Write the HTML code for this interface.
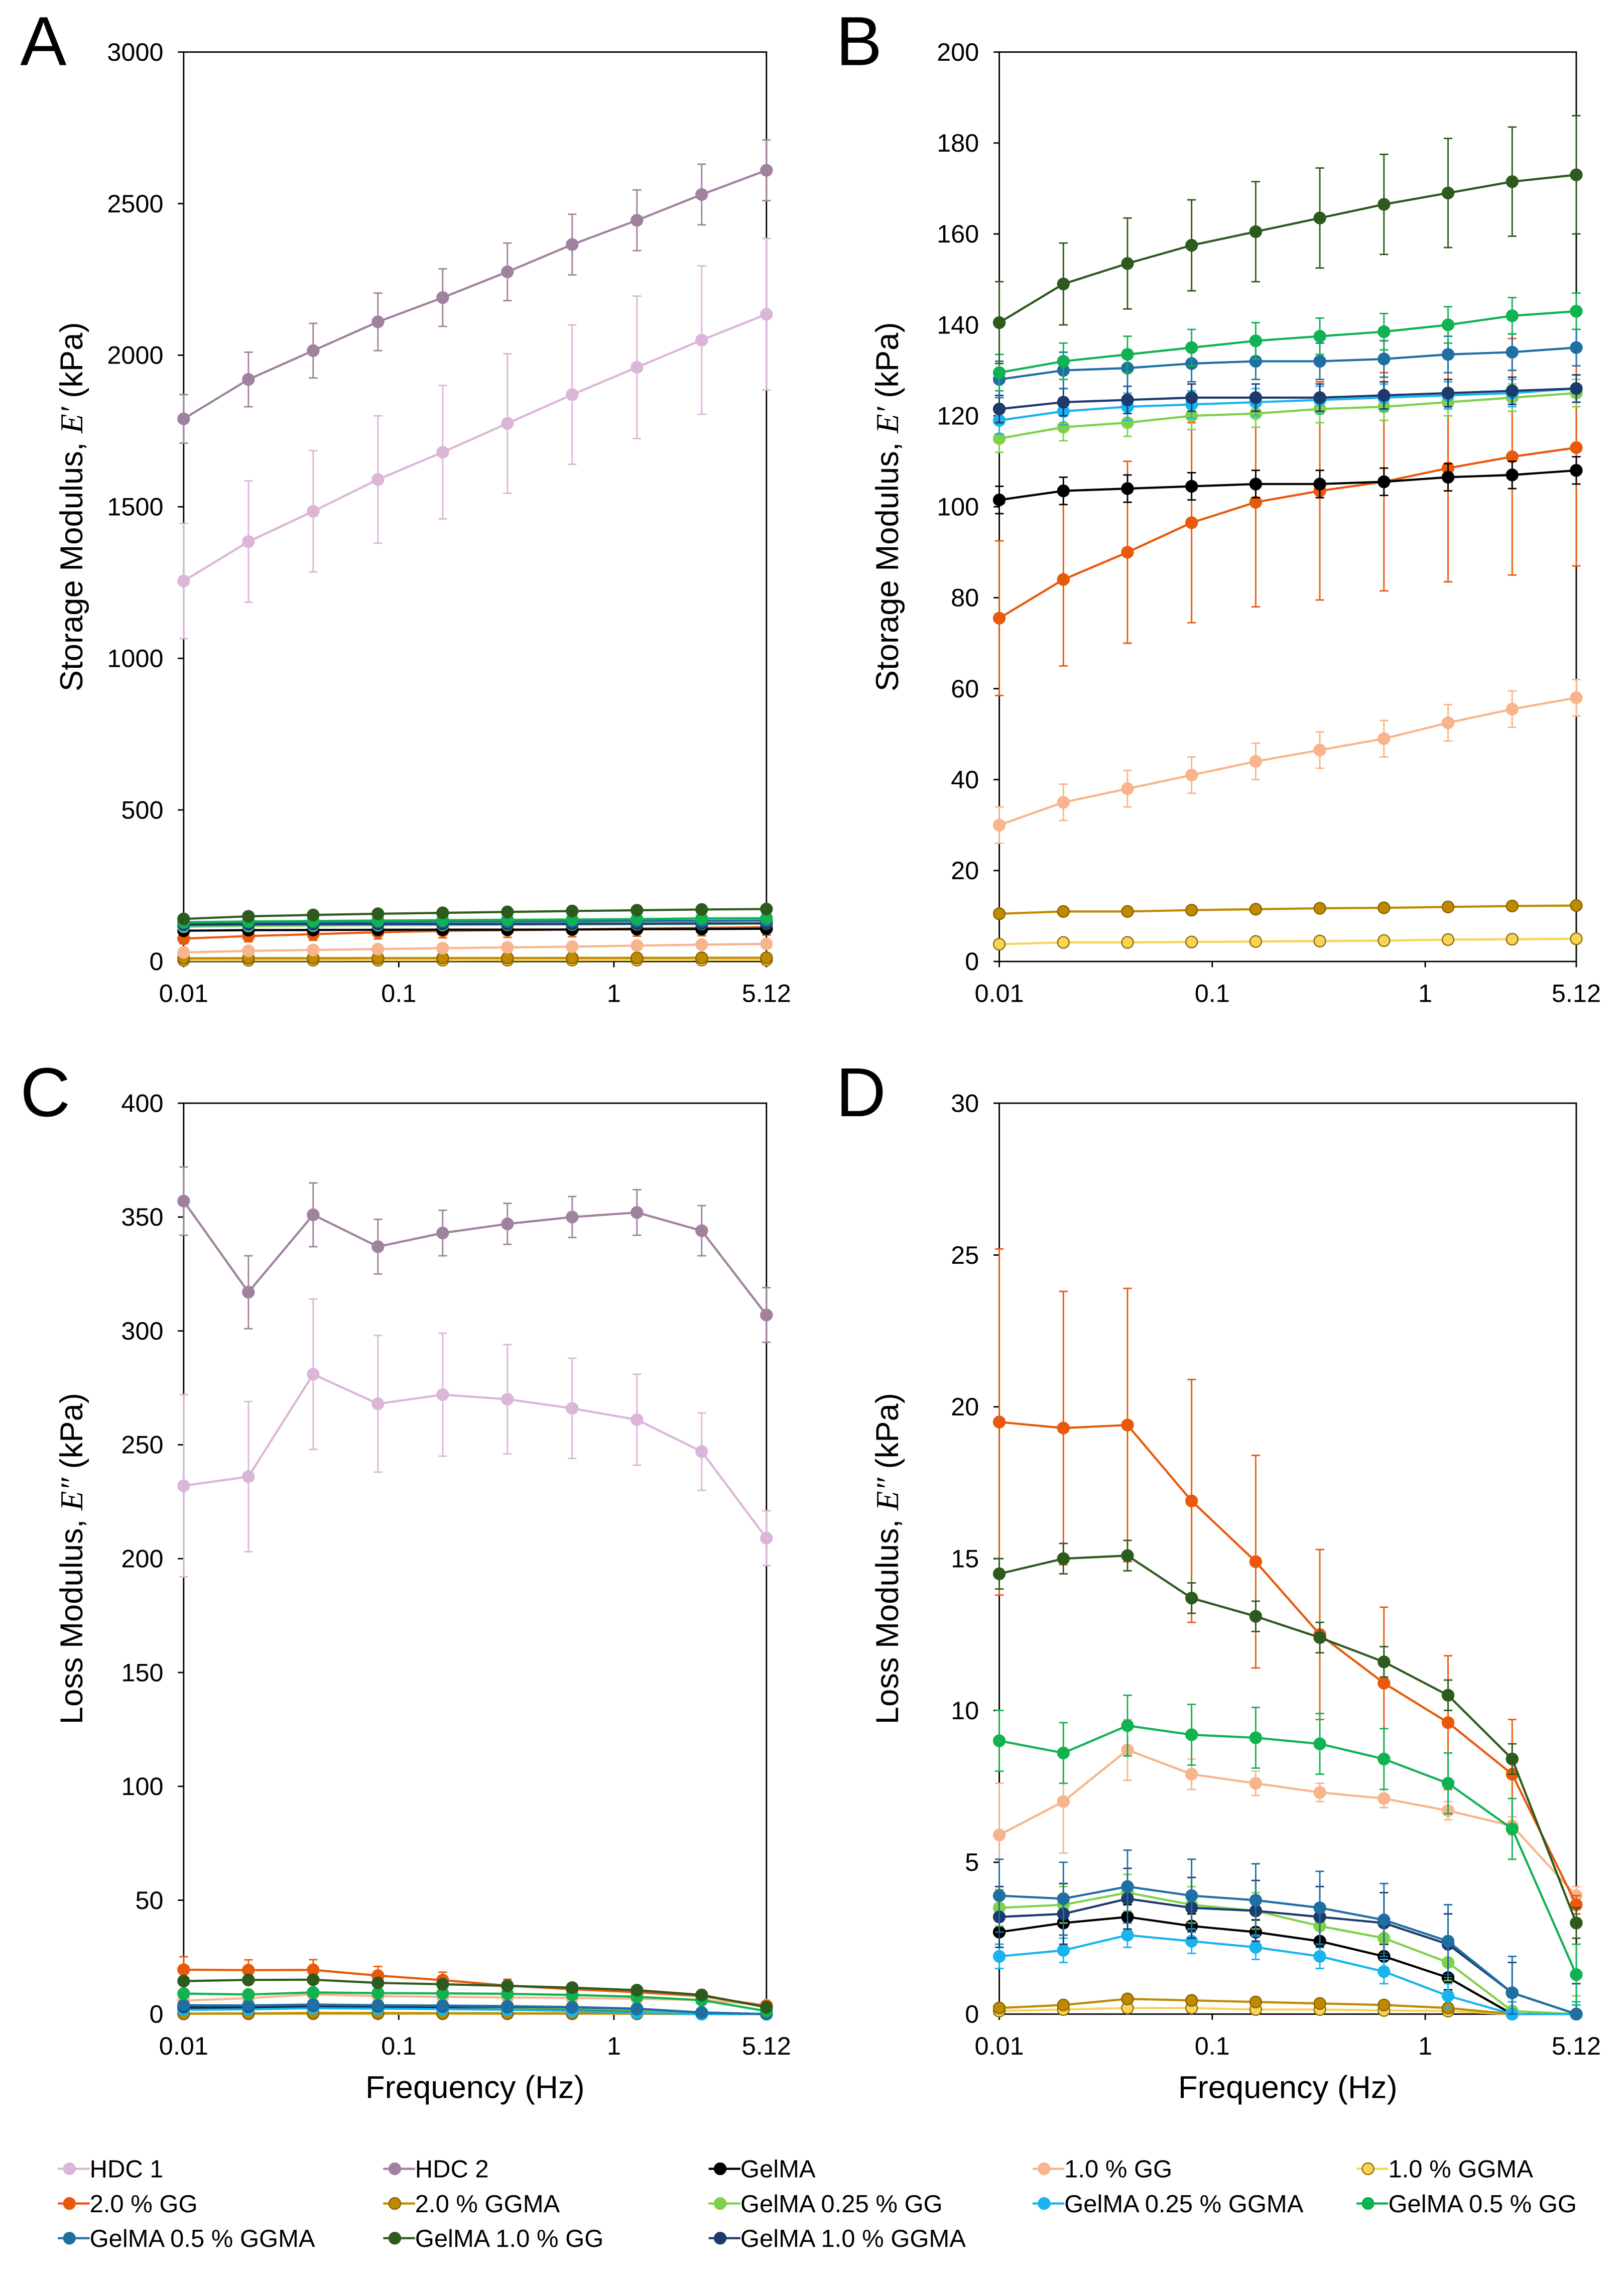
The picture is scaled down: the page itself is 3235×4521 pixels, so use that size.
<!DOCTYPE html>
<html><head><meta charset="utf-8">
<style>
html,body{margin:0;padding:0;background:#fff;}
svg{display:block;font-family:"Liberation Sans",sans-serif;}
</style></head>
<body>
<svg id="fig" width="3235" height="4521" viewBox="0 0 1123 1570" preserveAspectRatio="none" xmlns="http://www.w3.org/2000/svg"></svg>
<script>
const freqs=[0.01,0.02,0.04,0.08,0.16,0.32,0.64,1.28,2.56,5.12];
const seriesNames=["HDC 1","HDC 2","GelMA","1.0 % GG","1.0 % GGMA","2.0 % GG","2.0 % GGMA","GelMA 0.25 % GG","GelMA 0.25 % GGMA","GelMA 0.5 % GG","GelMA 0.5 % GGMA","GelMA 1.0 % GG","GelMA 1.0 % GGMA"];
const seriesColors=["#dbb6d9","#a0829f","#000000","#f8b48c","#f7d458","#e8590c","#c08a00","#7fd04a","#19b3ee","#10b251","#1f6fa2","#2d5a1d","#1c3a6c"];
const seriesStroke=["#dbb6d9","#a0829f","#000000","#f8b48c","#8a6a00","#e8590c","#8a6000","#7fd04a","#19b3ee","#10b251","#1f6fa2","#2d5a1d","#1c3a6c"];
// storage modulus E'
const sHDC1=[1255,1385,1485,1590,1680,1775,1870,1960,2050,2135];
const sHDC1e=[190,200,200,210,220,230,230,235,245,250];
const sHDC2=[1790,1920,2015,2110,2190,2275,2365,2445,2530,2610];
const sHDC2e=[80,90,90,95,95,95,100,100,100,100];
const sGelMA=[101.5,103.5,104,104.5,105,105,105.5,106.5,107,108];
const sGG10=[30,35,38,41,44,46.5,49,52.5,55.5,58];
const sGGMA10=[3.8,4.2,4.2,4.3,4.4,4.5,4.6,4.8,4.9,5];
const sGG20=[75.5,84,90,96.5,101,103.5,105.5,108.5,111,113];
const sGG20e=[17,19,20,22,23,24,24,25,26,26];
const sGGMA20=[10.5,11,11,11.3,11.5,11.7,11.8,12,12.2,12.3];
const sG025GG=[115,117.5,118.5,120,120.5,121.5,122,123,124,125];
const sG025GGMA=[119,121,122,122.5,123,123.5,124,124.5,125,126];
const sG05GG=[129.5,132,133.5,135,136.5,137.5,138.5,140,142,143];
const sG05GGMA=[128,130,130.5,131.5,132,132,132.5,133.5,134,135];
const sG10GG=[140.5,149,153.5,157.5,160.5,163.5,166.5,169,171.5,173];
const sG10GGe=[9,9,10,10,11,11,11,12,12,13];
const sG10GGMA=[121.5,123,123.5,124,124,124,124.5,125,125.5,126];
// loss modulus E''
const lHDC1=[232,236,281,268,272,270,266,261,247,209];
const lHDC1e=[40,33,33,30,27,24,22,20,17,12];
const lHDC2=[357,317,351,337,343,347,350,352,344,307];
const lHDC2e=[15,16,14,12,10,9,9,10,11,12];
const lGelMA=[2.7,3,3.2,2.9,2.7,2.4,1.9,1.2,0,0];
const lGG10=[5.9,7,8.7,7.9,7.6,7.3,7.1,6.7,6.2,3.9];
const lGG10e=[1.7,1.7,1,0.5,0.4,0.3,0.3,0.3,0.3,0.3];
const lGGMA10=[0.1,0.15,0.2,0.2,0.15,0.15,0.12,0.1,0,0];
const lGG20=[19.5,19.3,19.4,16.9,14.9,12.5,10.9,9.6,7.9,3.6];
const lGG20e=[5.7,4.5,4.5,4,3.5,2.8,2.5,2.2,1.8,0.3];
const lGGMA20=[0.2,0.3,0.5,0.45,0.4,0.35,0.3,0.2,0,0];
const lG025GG=[3.5,3.6,4,3.6,3.4,2.9,2.5,1.7,0.1,0];
const lG025GGMA=[1.9,2.1,2.6,2.4,2.2,1.9,1.4,0.6,0,0];
const lG05GG=[9,8.6,9.5,9.2,9.1,8.9,8.4,7.6,6.1,1.3];
const lG05GGMA=[3.9,3.8,4.2,3.9,3.75,3.5,3.1,2.4,0.7,0];
const lG10GG=[14.5,15,15.1,13.7,13.1,12.4,11.6,10.5,8.4,3];
const lG10GGMA=[3.2,3.3,3.8,3.5,3.4,3.2,3,2.3,0.7,0];
const storage=[sHDC1,sHDC2,sGelMA,sGG10,sGGMA10,sGG20,sGGMA20,sG025GG,sG025GGMA,sG05GG,sG05GGMA,sG10GG,sG10GGMA];
const storageErr=[sHDC1e,sHDC2e,3,4,0.5,sGG20e,0.8,3,3,4,4,sG10GGe,3];
const loss=[lHDC1,lHDC2,lGelMA,lGG10,lGGMA10,lGG20,lGGMA20,lG025GG,lG025GGMA,lG05GG,lG05GGMA,lG10GG,lG10GGMA];
const lossErr=[lHDC1e,lHDC2e,0.4,lGG10e,0.05,lGG20e,0.1,0.6,0.4,1,1.2,0.5,1];
const ticksA=[0,500,1000,1500,2000,2500,3000];
const ticksB=[0,20,40,60,80,100,120,140,160,180,200];
const ticksC=[0,50,100,150,200,250,300,350,400];
const ticksD=[0,5,10,15,20,25,30];
const xTicks=[0.01,0.1,1,5.12];
const xTickLabels=["0.01","0.1","1","5.12"];

const NS="http://www.w3.org/2000/svg";
const svg=document.getElementById('fig');
function mk(tag,attrs,parent){const e=document.createElementNS(NS,tag);for(const k in attrs)e.setAttribute(k,attrs[k]);(parent||svg).appendChild(e);return e;}

function panel(id,letter,x0,x1,y0,y1,ymax,ticks,data,errs,include,ytitle,showX){
  const g=mk('g',{});
  
  
  const lx=v=>Math.log(v/0.01)/Math.log(512);
  const X=v=>x0+lx(v)*(x1-x0);
  const Y=v=>y1-v/ymax*(y1-y0);
  const L=mk('text',{x:x0-113,y:y0+9,'font-size':48},g);
  L.textContent=letter;
  
  
  mk('rect',{x:x0,y:y0,width:x1-x0,height:y1-y0,stroke:'#000','stroke-width':1,fill:'none'},g);
  ticks.forEach(t=>{
    mk('line',{x1:x0-4,x2:x0,y1:Y(t),y2:Y(t),stroke:'#000','stroke-width':1},g);
    const tx=mk('text',{x:x0-14,y:Y(t)+6,'font-size':17.5,'text-anchor':'end',fill:'#000'},g);
    tx.textContent=t;
    
    
  });
  xTicks.forEach((t,i)=>{
    mk('line',{x1:X(t),x2:X(t),y1:y1,y2:y1+4,stroke:'#000','stroke-width':1},g);
    const tx=mk('text',{x:X(t),y:y1+28,'font-size':17.5,'text-anchor':'middle',fill:'#000'},g);
    tx.textContent=xTickLabels[i];
    
    
  });
  const cy=(y0+y1)/2;
  const yt=mk('text',{x:x0-70,y:cy,'font-size':22,'text-anchor':'middle',transform:`rotate(-90 ${x0-70} ${cy})`},g);
  yt.innerHTML=ytitle;
  
  
  if(showX){
    const xt=mk('text',{x:(x0+x1)/2,y:y1+58,'font-size':22,'text-anchor':'middle'},g);
    xt.textContent='Frequency (Hz)';
    
    
  }
  include.forEach(si=>{
    const vals=data[si],er=errs[si],col=seriesColors[si];
    const sg=mk('g',{},g);
    
    
    vals.forEach((v,i)=>{
      const e=Array.isArray(er)?er[i]:er;
      const top=Math.min(v+e,ymax),bot=Math.max(v-e,0);
      const x=X(freqs[i]);
      mk('path',{d:`M${x},${Y(top)}V${Y(bot)}M${x-3},${Y(top)}h6M${x-3},${Y(bot)}h6`,stroke:col,'stroke-width':1,fill:'none'},sg);
    });
    mk('polyline',{points:vals.map((v,i)=>X(freqs[i])+','+Y(v)).join(' '),stroke:col,'stroke-width':1.5,fill:'none'},sg);
    vals.forEach((v,i)=>{
      const c=mk('circle',{cx:X(freqs[i]),cy:Y(v),r:4,fill:col,stroke:seriesStroke[si],'stroke-width':0.8},sg);
      
      
    });
  });
}
const order=[1,0,11,9,10,12,8,7,2,5,3,6,4];
const orderNo=order.filter(i=>i>1);
const st="Storage Modulus, <tspan font-family='Liberation Serif' font-style='italic'>E′</tspan> (kPa)";
const lo="Loss Modulus, <tspan font-family='Liberation Serif' font-style='italic'>E″</tspan> (kPa)";
panel('a','A',127,530,36,665,3000,ticksA,storage,storageErr,order.slice().reverse(),st,false);
panel('b','B',691,1090,36,665,200,ticksB,storage,storageErr,orderNo.slice().reverse(),st,false);
panel('c','C',127,530,763,1393,400,ticksC,loss,lossErr,order.slice().reverse(),lo,true);
panel('d','D',691,1090,763,1393,30,ticksD,loss,lossErr,orderNo.slice().reverse(),lo,true);

const leg=mk('g',{});


const colsX=[40,265,490,714,938],rowsY=[1500,1524,1548];
seriesNames.forEach((n,i)=>{
  const x=colsX[i%5],y=rowsY[Math.floor(i/5)];
  const eg=mk('g',{},leg);
  
  
  mk('line',{x1:x,x2:x+22,y1:y,y2:y,stroke:seriesColors[i],'stroke-width':1.5},eg);
  mk('circle',{cx:x+8,cy:y,r:4,fill:seriesColors[i],stroke:seriesStroke[i],'stroke-width':0.8},eg);
  const t=mk('text',{x:x+22,y:y+6,'font-size':17},eg);
  t.textContent=n;
});
</script>
</body></html>
